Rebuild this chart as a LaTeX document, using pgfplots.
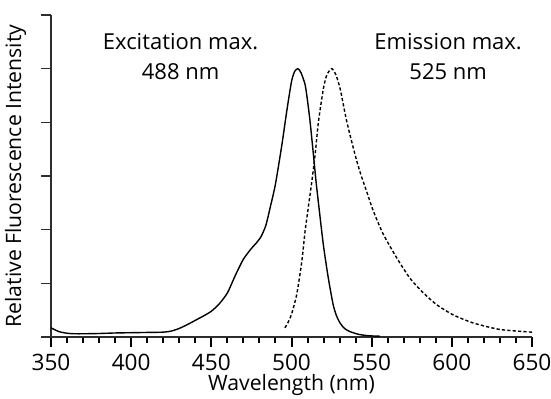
\documentclass[border=0pt]{standalone}
\usepackage{pgfplots}
\pgfplotsset{compat=1.18}
\usepackage{fontspec}
\setmainfont{Open Sans}
\definecolor{axgray}{RGB}{45,45,45}
\begin{document}
\begin{tikzpicture}
\useasboundingbox (-25.5pt,-31pt) rectangle (250pt,168.5pt);
\begin{axis}[
  at={(0,0)}, anchor=south west,
  scale only axis, width=240.5pt, height=161pt,
  xmin=350, xmax=650, ymin=0, ymax=6,
  axis x line*=bottom, axis y line*=left,
  axis line style={-, axgray, line width=0.7pt},
  xtick={350,400,...,650},
  minor xtick={360,370,380,390,410,420,430,440,460,470,480,490,510,520,530,540,560,570,580,590,610,620,630,640},
  ytick={0,1,...,6}, yticklabels={},
  xtick align=outside, ytick align=outside,
  major tick length=5pt, minor tick length=3pt,
  x tick style={black, line width=1pt},
  y tick style={axgray, line width=0.7pt},
  /pgf/number format/assume math mode=true,
  tick label style={font=\fontsize{11.3}{12}\selectfont},
  xticklabel style={yshift=0pt},
  xlabel={Wavelength (nm)},
  ylabel={Relative Fluorescence Intensity},
  label style={font=\fontsize{10.6}{12}\selectfont},
  xlabel style={at={(axis description cs:0.5,0)}, anchor=base, yshift=-27pt},
  ylabel style={yshift=-3pt},
  clip=false,
]
\addplot[black, line width=0.7pt, smooth, tension=0.4] coordinates {
(350,0.17)(355,0.10)(360,0.07)(365,0.06)(370,0.06)(380,0.065)(390,0.075)(400,0.08)(410,0.085)(420,0.09)(425,0.11)(430,0.16)(435,0.23)(440,0.31)(445,0.39)(450,0.48)(455,0.62)(460,0.82)(465,1.15)(470,1.45)(475,1.65)(478,1.75)(481,1.87)(484,2.08)(487,2.45)(490,2.85)(494,3.58)(497,4.20)(500,4.76)(502,4.95)(504,5.0)(506,4.92)(508.5,4.70)(510,4.40)(511.6,4.01)(513.7,3.39)(515.3,2.90)(516.8,2.50)(519.9,1.71)(523,1.09)(526,0.60)(528,0.40)(530.3,0.26)(533,0.16)(536.5,0.10)(541.7,0.05)(546,0.03)(550,0.02)(555,0.015)
};
\addplot[black, line width=0.7pt, dash pattern=on 1.6pt off 1.1pt, smooth, tension=0.4] coordinates {
(495.9,0.17)(498,0.28)(500.1,0.43)(503.3,0.80)(506.4,1.40)(508.5,1.98)(510.5,2.42)(512.6,2.88)(514.7,3.39)(516.8,4.01)(519.9,4.63)(522,4.88)(525,5.0)(527.5,4.90)(530.3,4.63)(534.5,4.01)(539.7,3.39)(543,3.05)(547,2.70)(551,2.35)(557,1.93)(565.7,1.47)(574,1.09)(582.3,0.82)(590.6,0.60)(601,0.41)(613.5,0.26)(630,0.14)(650,0.09)
};
\node[align=center, font=\fontsize{11}{15}\selectfont] at (axis cs:430.8,5.22) {Excitation max.\\488 nm};
\node[align=center, font=\fontsize{11}{15}\selectfont] at (axis cs:597.7,5.22) {Emission max.\\525 nm};
\end{axis}
\end{tikzpicture}
\end{document}
